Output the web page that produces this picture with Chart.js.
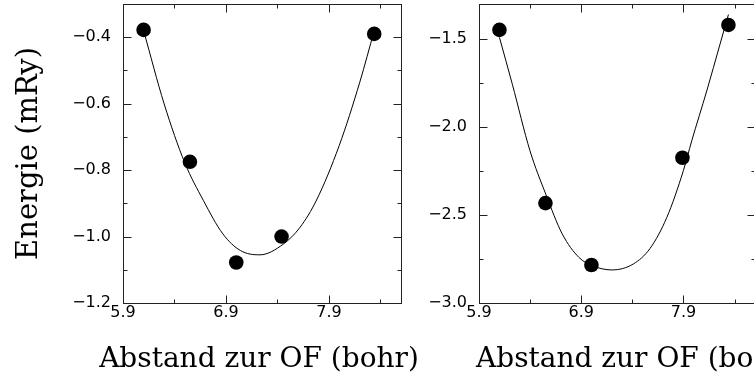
<!DOCTYPE html>
<html>
<head>
<meta charset="utf-8">
<script src="https://cdn.jsdelivr.net/npm/chart.js@4.4.1/dist/chart.umd.min.js"></script>
<style>
  html, body { margin: 0; padding: 0; background: #fff; width: 754px; height: 379px; overflow: hidden; }
  #wrap { position: relative; width: 754px; height: 379px; overflow: hidden; }
  canvas { position: absolute; top: 0; }
  #c1 { left: 0; }
  #c2 { left: 420px; }
</style>
</head>
<body>
<div id="wrap">
  <canvas id="c1" width="420" height="379"></canvas>
  <canvas id="c2" width="340" height="379"></canvas>
</div>
<script>
// ---- Data ----
// Left panel: measured points
const xLeft = [6.10, 6.55, 7.00, 7.44, 8.34];
const yLeft = [-0.378, -0.775, -1.078, -1.000, -0.390];
// Left panel: fitted curve
const curveXLeft = [6.10, 6.30, 6.50, 6.68, 6.87, 7.04, 7.23, 7.46, 7.62, 7.78, 8.00, 8.20, 8.34];
const curveYLeft = [-0.380, -0.601, -0.778, -0.891, -0.992, -1.042, -1.055, -1.022, -0.972, -0.890, -0.726, -0.535, -0.380];

// Right panel: measured points
const xRight = [6.10, 6.55, 7.00, 7.89, 8.34];
const yRight = [-1.447, -2.432, -2.784, -2.174, -1.419];
// Right panel: fitted curve
const curveXRight = [6.10, 6.226, 6.399, 6.553, 6.715, 6.878, 7.009, 7.20, 7.41, 7.573, 7.737, 7.899, 7.981, 8.128, 8.258, 8.34];
const curveYRight = [-1.49, -1.756, -2.135, -2.381, -2.608, -2.741, -2.788, -2.812, -2.778, -2.690, -2.514, -2.248, -2.078, -1.794, -1.528, -1.36];

// Axis ranges and ticks
const xRange = [5.9, 8.6];
const xMajorTicks = [5.9, 6.9, 7.9];
const xMinorTicks = [6.4, 7.4, 8.4];
const yRangeLeft = [-1.2, -0.3];
const yMajorLeft = [-1.2, -1.0, -0.8, -0.6, -0.4];
const yMinorLeft = [-1.1, -0.9, -0.7, -0.5];
const yRangeRight = [-3.0, -1.3];
const yMajorRight = [-3.0, -2.5, -2.0, -1.5];
const yMinorRight = [-2.75, -2.25, -1.75];

const xTitle = 'Abstand zur OF (bohr)';
const yTitle = 'Energie (mRy)';

// ---- Helpers ----
const toPts = (xs, ys) => xs.map((x, i) => ({ x: x, y: ys[i] }));
const fmt = v => {
  const s = Number(v).toFixed(1);
  return s.startsWith('-') ? '\u2212' + s.slice(1) : s;
};

// Frame with inward ticks on all four sides, placed through the chart's scales
const frameTicks = {
  id: 'frameTicks',
  beforeDatasetsDraw(chart, args, o) {
    const { ctx, chartArea: a, scales } = chart;
    ctx.save();
    ctx.strokeStyle = '#222';
    ctx.lineWidth = 1;
    const L = Math.round(a.left) + 0.5, R = Math.round(a.right) + 0.5;
    const T = Math.round(a.top) + 0.5, B = Math.round(a.bottom) + 0.5;
    ctx.strokeRect(L, T, R - L, B - T);
    const seg = (x1, y1, x2, y2) => { ctx.beginPath(); ctx.moveTo(x1, y1); ctx.lineTo(x2, y2); ctx.stroke(); };
    const xt = (vals, len) => vals.forEach(v => {
      const p = Math.round(scales.x.getPixelForValue(v)) + 0.5;
      seg(p, B, p, B - len); seg(p, T, p, T + len);
    });
    const yt = (vals, len) => vals.forEach(v => {
      const p = Math.round(scales.y.getPixelForValue(v)) + 0.5;
      seg(L, p, L + len, p); seg(R, p, R - len, p);
    });
    xt(o.xMajor, 8); xt(o.xMinor, 4);
    yt(o.yMajor, 8); yt(o.yMinor, 4);
    ctx.restore();
  }
};

// X axis title (drawn without the width clamp Chart.js applies to scale titles)
const xAxisTitle = {
  id: 'xAxisTitle',
  afterDraw(chart, args, o) {
    const { ctx, chartArea: a } = chart;
    ctx.save();
    ctx.fillStyle = '#000';
    ctx.font = '28px "DejaVu Serif"';
    ctx.textBaseline = 'alphabetic';
    if (o.align === 'start') {
      ctx.textAlign = 'left';
      ctx.fillText(o.text, a.left + o.dx, a.bottom + o.dy);
    } else {
      ctx.textAlign = 'center';
      ctx.fillText(o.text, (a.left + a.right) / 2 + o.dx, a.bottom + o.dy);
    }
    ctx.restore();
  }
};

function makeChart(id, pts, curve, yRange, yMajor, yMinor, opts) {
  return new Chart(document.getElementById(id), {
    type: 'scatter',
    data: {
      datasets: [
        {
          data: pts,
          pointRadius: 7.3,
          pointHoverRadius: 7.3,
          pointBackgroundColor: '#000',
          pointBorderColor: '#000',
          pointBorderWidth: 0,
          showLine: false,
          order: 0
        },
        {
          data: curve,
          showLine: true,
          pointRadius: 0,
          borderColor: '#000',
          borderWidth: 1,
          cubicInterpolationMode: 'monotone',
          fill: false,
          order: 1
        }
      ]
    },
    options: {
      responsive: false,
      animation: false,
      devicePixelRatio: 1,
      layout: { autoPadding: false, padding: { left: 0, right: opts.padRight, top: 4, bottom: 0 } },
      plugins: {
        legend: { display: false },
        tooltip: { enabled: false },
        frameTicks: { xMajor: xMajorTicks, xMinor: xMinorTicks, yMajor: yMajor, yMinor: yMinor },
        xAxisTitle: { text: xTitle, align: opts.titleAlign, dx: opts.titleDx, dy: 64 }
      },
      scales: {
        x: {
          type: 'linear',
          min: xRange[0], max: xRange[1],
          afterBuildTicks: s => { s.ticks = xMajorTicks.map(v => ({ value: v })); },
          afterFit: s => { s.height = 76; s.paddingLeft = 0; s.paddingRight = 0; },
          grid: { display: false, drawTicks: false },
          border: { display: false },
          ticks: {
            color: '#000',
            padding: 0,
            maxRotation: 0,
            autoSkip: false,
            font: { family: 'DejaVu Sans', size: 16 },
            callback: v => fmt(v)
          },
          title: { display: false }
        },
        y: {
          type: 'linear',
          min: yRange[0], max: yRange[1],
          afterBuildTicks: s => { s.ticks = yMajor.map(v => ({ value: v })); },
          afterFit: s => { s.width = opts.yWidth; s.paddingTop = 0; s.paddingBottom = 0; },
          grid: { display: false, drawTicks: false },
          border: { display: false },
          ticks: {
            color: '#000',
            padding: 12,
            autoSkip: false,
            font: { family: 'DejaVu Sans', size: 16 },
            callback: v => fmt(v)
          },
          title: {
            display: opts.showYTitle,
            text: yTitle,
            color: '#000',
            font: { family: 'DejaVu Serif', size: 29, weight: 'normal' },
            padding: { top: 12, bottom: 0 }
          }
        }
      }
    },
    plugins: [frameTicks, xAxisTitle]
  });
}

makeChart('c1', toPts(xLeft, yLeft), toPts(curveXLeft, curveYLeft),
  yRangeLeft, yMajorLeft, yMinorLeft,
  { padRight: 19, yWidth: 123, showYTitle: true, titleAlign: 'center', titleDx: -3 });

makeChart('c2', toPts(xRight, yRight), toPts(curveXRight, curveYRight),
  yRangeRight, yMajorRight, yMinorRight,
  { padRight: 5, yWidth: 59, showYTitle: false, titleAlign: 'start', titleDx: -3 });
</script>
</body>
</html>
